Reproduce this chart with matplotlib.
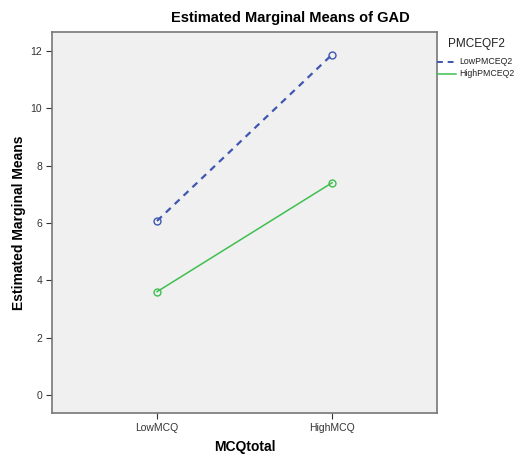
import numpy as np
import matplotlib.pyplot as plt

plt.rcParams['font.family'] = ['Liberation Sans', 'DejaVu Sans']

categories = ['LowMCQ', 'HighMCQ']
low_pmceq = [6.07, 11.87]
high_pmceq = [3.60, 7.40]
yticks = [0, 2, 4, 6, 8, 10, 12]

fig = plt.figure(figsize=(5.16, 4.54), dpi=100)
ax = fig.add_axes([52/516, 1 - 413/454, 385/516, 381/454])
ax.set_facecolor('#f0f0f0')

x = np.arange(len(categories))
ax.plot(x, low_pmceq, color='#3f57b0', linestyle=(0, (3, 2.5)), linewidth=1.6,
        marker='o', markersize=5, markerfacecolor='none', markeredgewidth=1.0)
ax.plot(x, high_pmceq, color='#3fbf4f', linestyle='-', linewidth=1.1,
        marker='o', markersize=5, markerfacecolor='none', markeredgewidth=1.0)

ax.set_xlim(-0.6, 1.6)
ax.set_ylim(-0.63, 12.66)
ax.set_xticks(x)
ax.set_xticklabels(categories, fontsize=7.5)
ax.set_yticks(yticks)
ax.set_yticklabels([str(v) for v in yticks], fontsize=7.5)
ax.tick_params(colors='#333333', length=4, width=0.8, pad=3)
for s in ax.spines.values():
    s.set_color('#777777')
    s.set_linewidth(1.2)

fig.text(290/516, 1 - 18/454, 'Estimated Marginal Means of GAD', fontsize=10.5,
         fontweight='bold', ha='center', va='center')
ax.set_xlabel('MCQtotal', fontsize=10, fontweight='bold', labelpad=5)
ax.set_ylabel('Estimated Marginal Means', fontsize=10, fontweight='bold', labelpad=3)

# legend outside on the right
fig.text(448/516, 1 - 44/454, 'PMCEQF2', fontsize=8.5, color='#222222', va='center')
fig.lines.append(plt.Line2D([437/516, 456/516], [1 - 62/454] * 2, transform=fig.transFigure,
                            color='#3f57b0', linestyle=(0, (3, 2.5)), linewidth=1.4))
fig.lines.append(plt.Line2D([437/516, 456/516], [1 - 74/454] * 2, transform=fig.transFigure,
                            color='#3fbf4f', linewidth=1.1))
fig.text(459/516, 1 - 62/454, 'LowPMCEQ2', fontsize=6.3, color='#222222', va='center')
fig.text(459/516, 1 - 74/454, 'HighPMCEQ2', fontsize=6.3, color='#222222', va='center')

fig.savefig('out.png', dpi=100, facecolor='white')
